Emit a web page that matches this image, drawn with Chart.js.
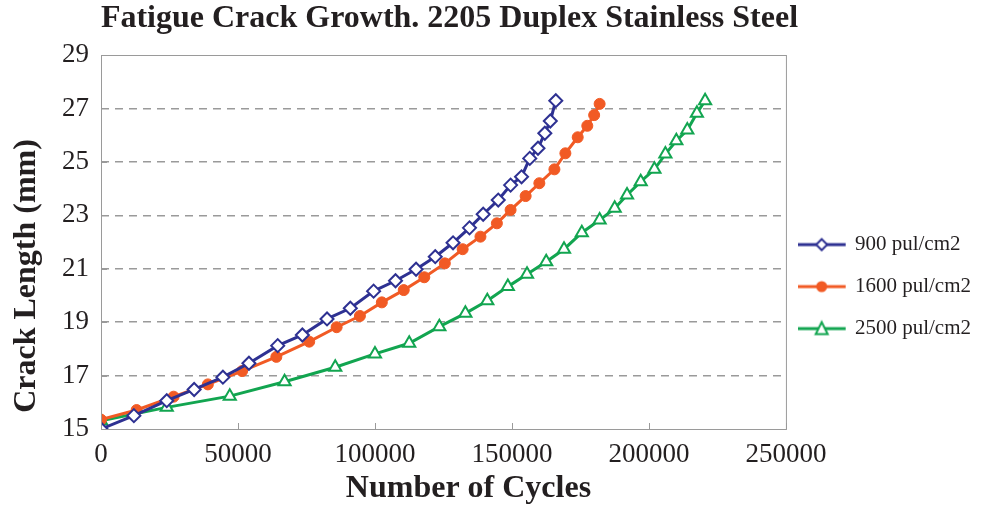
<!DOCTYPE html>
<html>
<head>
<meta charset="utf-8">
<script src="https://cdn.jsdelivr.net/npm/chart.js@4/dist/chart.umd.min.js"></script>
<style>
  html, body { margin: 0; padding: 0; background: #fff; }
  #wrap { width: 989px; height: 508px; position: relative; }
</style>
</head>
<body>
<div id="wrap"><canvas id="chartCanvas"></canvas></div>
<script>
var TITLE = 'Fatigue Crack Growth. 2205 Duplex Stainless Steel';
var X_TITLE = 'Number of Cycles';
var Y_TITLE = 'Crack Length (mm)';
var SERIES_LABELS = ['900 pul/cm2', '1600 pul/cm2', '2500 pul/cm2'];

var cycles900 = [0, 12000, 24000, 34000, 44500, 54000, 64500, 73500, 82500, 91000, 99500,
  107500, 115000, 122000, 128500, 134500, 139500, 145000, 149500, 153500, 156500,
  159500, 162000, 164000, 166000];
var crack900 = [15.0, 15.5, 16.06, 16.48, 16.94, 17.46, 18.12, 18.52, 19.12, 19.52, 20.16,
  20.55, 20.98, 21.45, 21.97, 22.53, 23.04, 23.57, 24.13, 24.44, 25.13,
  25.51, 26.07, 26.53, 27.29];

var cycles1600 = [0, 13000, 26500, 39000, 51500, 64000, 76000, 86000, 94500, 102500, 110500,
  118000, 125500, 132000, 138500, 144500, 149500, 155000, 160000, 165500, 169500,
  174000, 177500, 180000, 182000];
var crack1600 = [15.35, 15.71, 16.21, 16.67, 17.17, 17.7, 18.27, 18.81, 19.23, 19.74, 20.2,
  20.68, 21.2, 21.73, 22.2, 22.7, 23.2, 23.72, 24.2, 24.72, 25.32,
  25.92, 26.35, 26.75, 27.17];

var cycles2500 = [0, 24000, 47000, 67000, 85500, 100000, 112500, 123500, 133000, 141000, 148500,
  155500, 162500, 169000, 175500, 182000, 187500, 192000, 197000, 202000, 206000,
  210000, 214000, 217500, 220500];
var crack2500 = [15.31, 15.81, 16.23, 16.77, 17.31, 17.81, 18.21, 18.83, 19.33, 19.8, 20.33,
  20.79, 21.26, 21.73, 22.35, 22.82, 23.26, 23.76, 24.26, 24.72, 25.29,
  25.79, 26.19, 26.82, 27.29];

var X_TICKS = [0, 50000, 100000, 150000, 200000, 250000];
var Y_TICKS = [15, 17, 19, 21, 23, 25, 27, 29];

var BLUE = '#2E3192';
var ORANGE = '#F15A24';
var GREEN = '#12A550';
var TEXT = '#231F20';
var GRID = '#9a9a9a';
var FONT = "'Liberation Serif', 'Times New Roman', serif";

function pts(xs, ys) {
  return xs.map((x, i) => ({ x: x, y: ys[i] }));
}

// legend icon: line with marker; canvas is wider than the line so the
// sample sits a little left of where chart.js starts the legend box
function legendIcon(color, style, filled) {
  var c = document.createElement('canvas');
  c.width = 56; c.height = 20;
  var g = c.getContext('2d');
  g.strokeStyle = color; g.lineWidth = 3;
  g.beginPath(); g.moveTo(0, 10); g.lineTo(48, 10); g.stroke();
  g.lineWidth = 2;
  g.fillStyle = filled ? color : '#fff';
  g.beginPath();
  if (style === 'rectRot') {
    g.moveTo(24, 4.5); g.lineTo(29.5, 10); g.lineTo(24, 15.5); g.lineTo(18.5, 10); g.closePath();
  } else if (style === 'triangle') {
    g.moveTo(24, 3.5); g.lineTo(30, 15.5); g.lineTo(18, 15.5); g.closePath();
  } else {
    g.arc(24, 10, 4.5, 0, Math.PI * 2);
  }
  g.fill(); g.stroke();
  return c;
}

var ICONS = [
  legendIcon(BLUE, 'rectRot', false),
  legendIcon(ORANGE, 'circle', true),
  legendIcon(GREEN, 'triangle', false)
];

// plot frame, inside tick marks, chart title and axis titles
var frame = {
  id: 'frame',
  afterDraw(chart) {
    var ctx = chart.ctx, a = chart.chartArea;
    var xs = chart.scales.x, ys = chart.scales.y;
    ctx.save();
    ctx.strokeStyle = GRID;
    ctx.lineWidth = 1;
    ctx.strokeRect(a.left + 0.5, a.top + 0.5, a.right - a.left, a.bottom - a.top);
    ctx.beginPath();
    X_TICKS.forEach(v => {
      var px = Math.round(xs.getPixelForValue(v)) + 0.5;
      ctx.moveTo(px, a.bottom); ctx.lineTo(px, a.bottom - 6);
    });
    Y_TICKS.forEach(v => {
      var py = Math.round(ys.getPixelForValue(v)) + 0.5;
      ctx.moveTo(a.left, py); ctx.lineTo(a.left + 6, py);
    });
    ctx.stroke();
    ctx.fillStyle = TEXT;
    ctx.textAlign = 'center';
    ctx.textBaseline = 'middle';
    ctx.font = 'bold 32px ' + FONT;
    ctx.fillText(TITLE, (a.left + a.right) / 2 + 6, 19);
    ctx.font = 'bold 32px ' + FONT;
    ctx.fillText(X_TITLE, (a.left + a.right) / 2 + 25, 489);
    ctx.translate(27, (a.top + a.bottom) / 2 + 34);
    ctx.rotate(-Math.PI / 2);
    ctx.fillText(Y_TITLE, 0, 0);
    ctx.restore();
  }
};

var ctx = document.getElementById('chartCanvas');
new Chart(ctx, {
  type: 'line',
  data: {
    datasets: [
      {
        label: SERIES_LABELS[0], data: pts(cycles900, crack900),
        borderColor: BLUE, backgroundColor: '#fff', borderWidth: 3,
        pointStyle: 'rectRot', pointRadius: 6.5, pointBorderWidth: 2,
        pointBackgroundColor: '#fff', pointBorderColor: BLUE, tension: 0
      },
      {
        label: SERIES_LABELS[1], data: pts(cycles1600, crack1600),
        borderColor: ORANGE, backgroundColor: ORANGE, borderWidth: 3,
        pointStyle: 'circle', pointRadius: 5.5, pointBorderWidth: 1,
        pointBackgroundColor: ORANGE, pointBorderColor: ORANGE, tension: 0
      },
      {
        label: SERIES_LABELS[2], data: pts(cycles2500, crack2500),
        borderColor: GREEN, backgroundColor: '#fff', borderWidth: 3,
        pointStyle: 'triangle', pointRadius: 7, pointBorderWidth: 2,
        pointBackgroundColor: '#fff', pointBorderColor: GREEN, tension: 0
      }
    ]
  },
  options: {
    responsive: true,
    maintainAspectRatio: false,
    animation: false,
    layout: { padding: { top: 55, right: 8, bottom: 0, left: 4 } },
    plugins: {
      title: { display: false },
      tooltip: { enabled: false },
      legend: {
        display: true,
        position: 'right',
        align: 'center',
        title: { display: true, text: ' ', font: { size: 1 }, padding: { top: 9, bottom: 0 } },
        labels: {
          usePointStyle: true,
          pointStyleWidth: 37.5,
          padding: 21,
          color: TEXT,
          font: { family: FONT, size: 21 },
          generateLabels: chart => chart.data.datasets.map((ds, i) => ({
            text: ds.label,
            pointStyle: ICONS[i],
            fillStyle: ds.borderColor,
            strokeStyle: ds.borderColor,
            lineWidth: 0,
            fontColor: TEXT,
            hidden: false,
            datasetIndex: i
          }))
        }
      }
    },
    scales: {
      x: {
        type: 'linear',
        min: 0, max: 250000,
        afterBuildTicks: s => { s.ticks = X_TICKS.map(v => ({ value: v })); },
        grid: { display: false, drawTicks: false },
        border: { display: false },
        ticks: {
          color: TEXT, padding: 10,
          font: { family: FONT, size: 27 },
          callback: v => String(v)
        },
        afterFit: s => { s.height = 79; }
      },
      y: {
        type: 'linear',
        min: 15, max: 29,
        afterBuildTicks: s => { s.ticks = Y_TICKS.map(v => ({ value: v })); },
        grid: {
          drawTicks: false,
          color: c => (c.tick.value === 15 || c.tick.value === 29) ? 'rgba(0,0,0,0)' : GRID,
          lineWidth: 1.5
        },
        border: { display: false, dash: [8, 6] },
        ticks: {
          color: TEXT, padding: 12,
          font: { family: FONT, size: 27 }
        },
        afterFit: s => { s.width = 97; }
      }
    }
  },
  plugins: [frame]
});
</script>
</body>
</html>
